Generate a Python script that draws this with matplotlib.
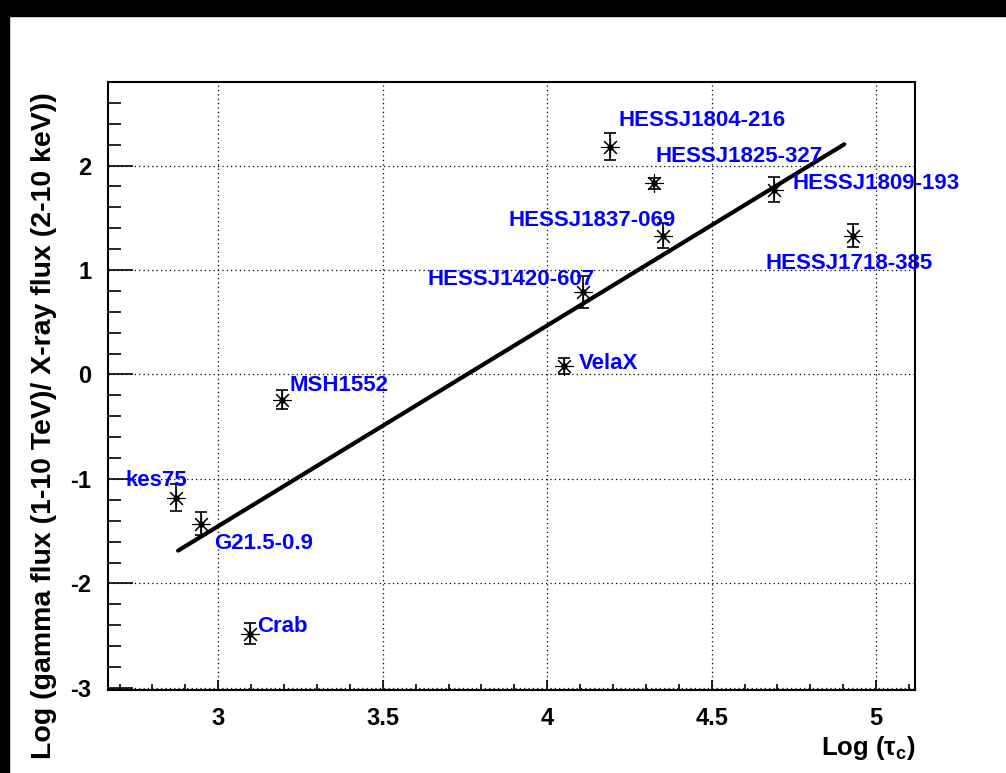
import matplotlib
matplotlib.use('Agg')
import matplotlib.pyplot as plt
from matplotlib.patches import Rectangle
from matplotlib.ticker import MultipleLocator

plt.rcParams['font.family'] = ['Liberation Sans', 'DejaVu Sans']
plt.rcParams['font.weight'] = 'bold'
plt.rcParams['mathtext.fontset'] = 'custom'
plt.rcParams['mathtext.rm'] = 'Liberation Sans:bold'
plt.rcParams['mathtext.it'] = 'Liberation Sans:bold'

# pulsar wind nebulae: log(tau_c) vs log(gamma / X-ray flux ratio)
names = ['kes75', 'G21.5-0.9', 'Crab', 'MSH1552', 'VelaX', 'HESSJ1420-607',
         'HESSJ1837-069', 'HESSJ1804-216', 'HESSJ1825-327', 'HESSJ1809-193',
         'HESSJ1718-385']
log_tau = [2.872, 2.948, 3.097, 3.195, 4.05, 4.11, 4.353, 4.19, 4.325, 4.69, 4.93]
log_ratio = [-1.18, -1.43, -2.48, -0.24, 0.08, 0.79, 1.33, 2.18, 1.83, 1.77, 1.33]
err = [0.13, 0.11, 0.10, 0.09, 0.08, 0.15, 0.12, 0.13, 0.05, 0.12, 0.11]

# label anchor (left edge, vertical centre) for each source
label_x = [2.717, 2.988, 3.119, 3.216, 4.097, 3.635, 3.881, 4.216, 4.328, 4.745, 4.663]
label_y = [-1.015, -1.62, -2.41, -0.105, 0.105, 0.91, 1.475, 2.43, 2.09, 1.83, 1.063]

# linear fit
fit_x = [2.878, 4.903]
fit_y = [-1.686, 2.203]

fig = plt.figure(figsize=(10.06, 7.73), dpi=100)
fig.patches.append(Rectangle((0, 1 - 16 / 773.), 1, 16 / 773., transform=fig.transFigure,
                             color='black', zorder=0))
fig.patches.append(Rectangle((0, 0), 9 / 1006., 1, transform=fig.transFigure,
                             color='black', zorder=0))

ax = fig.add_axes([0.1074, 0.1074, 0.8021, 0.7866])
ax.set_xlim(2.665, 5.118)
ax.set_ylim(-3.02, 2.80)

ax.plot(fit_x, fit_y, color='black', lw=3.0, solid_capstyle='round', zorder=3)
ax.errorbar(log_tau, log_ratio, yerr=err, fmt='none', ecolor='black', elinewidth=1.2,
            capsize=4, capthick=1.2, zorder=4)
ax.plot(log_tau, log_ratio, ls='none', marker=(8, 2, 0), ms=13, mew=0.8,
        color='black', zorder=5)
ax.plot(log_tau, log_ratio, ls='none', marker='o', ms=3.5, color='black', zorder=6)

for n, lx, ly in zip(names, label_x, label_y):
    ax.text(lx, ly, n, color='#0000ff', fontsize=16, fontweight='bold',
            ha='left', va='center', clip_on=False, zorder=7)

ax.xaxis.set_major_locator(MultipleLocator(0.5))
ax.xaxis.set_minor_locator(MultipleLocator(0.1))
ax.yaxis.set_major_locator(MultipleLocator(1))
ax.yaxis.set_minor_locator(MultipleLocator(0.2))
ax.xaxis.set_major_formatter(matplotlib.ticker.FuncFormatter(lambda v, p: '%g' % v))
ax.yaxis.set_major_formatter(matplotlib.ticker.FuncFormatter(lambda v, p: '%g' % v))

ax.tick_params(axis='x', which='major', direction='in', length=7, width=1.2,
               labelsize=17, pad=12, top=False)
ax.tick_params(axis='x', which='minor', direction='in', length=4, width=1.2, top=False)
ax.tick_params(axis='y', which='major', direction='in', length=18, width=1.2,
               labelsize=17, pad=12, right=False)
ax.tick_params(axis='y', which='minor', direction='in', length=9, width=1.2, right=False)
for lab in ax.get_xticklabels() + ax.get_yticklabels():
    lab.set_fontweight('bold')

ax.grid(True, which='major', color='black', ls=(0, (1, 2.5)), lw=0.9)
for s in ax.spines.values():
    s.set_linewidth(1.5)

fig.text(0.9095, 0.032, r'Log ($\tau_{c}$)', ha='right', va='center',
         fontsize=18.5, fontweight='bold')
fig.text(0.0437, 0.45, 'Log (gamma flux (1-10 TeV)/ X-ray flux (2-10 keV))',
         rotation=90, ha='center', va='center', fontsize=20.5, fontweight='bold')

plt.savefig('out.png', dpi=100)
